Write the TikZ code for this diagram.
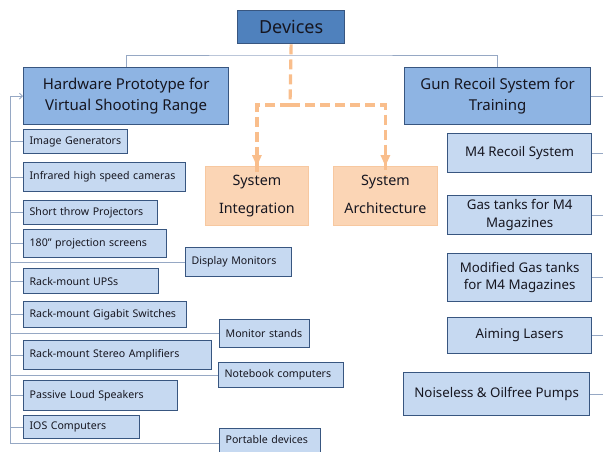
\documentclass[tikz,border=0pt]{standalone}
\usepackage{fontspec}
\setmainfont{Noto Sans}
\usetikzlibrary{arrows.meta}
\definecolor{topfill}{RGB}{79,129,189}
\definecolor{midfill}{RGB}{142,180,227}
\definecolor{itemfill}{RGB}{198,217,241}
\definecolor{boxline}{RGB}{56,86,128}
\definecolor{peach}{RGB}{251,213,181}
\definecolor{peachline}{RGB}{247,200,160}
\definecolor{dashcol}{RGB}{249,190,140}
\definecolor{linkcol}{RGB}{150,168,196}
\definecolor{ink}{RGB}{22,22,32}
\begin{document}
\begin{tikzpicture}[x=1pt,y=-1pt,
  box/.style={draw=boxline,line width=1.3pt,inner sep=0pt,anchor=north west,text=ink},
  topbox/.style={box,fill=topfill,font=\fontsize{18}{20}\selectfont},
  midbox/.style={box,fill=midfill,align=center,font=\fontsize{15}{21}\selectfont},
  leftitem/.style={box,fill=itemfill,font=\fontsize{10.6}{12}\selectfont,text width=#1,align=left,inner xsep=6pt},
  rightitem/.style={box,fill=itemfill,align=center,font=\fontsize{13.3}{17.5}\selectfont},
  peachbox/.style={draw=peachline,line width=0.8pt,fill=peach,inner sep=0pt,anchor=north west,
    align=center,text=ink,font=\fontsize{14.3}{28}\selectfont},
  link/.style={draw=linkcol,line width=0.9pt},
  dashlink/.style={draw=dashcol,line width=3.2pt,dash pattern=on 10pt off 5pt},
]
\useasboundingbox (0,0) rectangle (603,452);

% top level
\node[topbox,minimum width=107pt,minimum height=33pt] (devices) at (237,10) {Devices};
\node[midbox,minimum width=205pt,minimum height=57pt] (hw) at (23,67)
  {Hardware Prototype for\\Virtual Shooting Range};
\node[midbox,minimum width=186pt,minimum height=57pt] (gun) at (404,67)
  {Gun Recoil System for\\Training};
\node[peachbox,minimum width=103pt,minimum height=59pt] (si) at (205,166) {System\\Integration};
\node[peachbox,minimum width=104pt,minimum height=59pt] (sa) at (333,166) {System\\Architecture\vphantom{g}};

% hardware items
\node[leftitem=92pt,minimum width=104pt,minimum height=24pt] (ig) at (23,129) {Image Generators};
\node[leftitem=150pt,minimum width=162pt,minimum height=29pt] (ir) at (23,162) {Infrared high speed cameras};
\node[leftitem=122pt,minimum width=134pt,minimum height=24pt] (st) at (23,200) {Short throw Projectors};
\node[leftitem=131pt,minimum width=143pt,minimum height=28pt] (ps) at (23,229) {180'' projection screens};
\node[leftitem=94pt,minimum width=106pt,minimum height=29pt] (dm) at (185,247) {Display Monitors};
\node[leftitem=123pt,minimum width=135pt,minimum height=25pt] (ups) at (23,268) {Rack-mount UPSs};
\node[leftitem=151pt,minimum width=163pt,minimum height=26pt] (gs) at (23,301) {Rack-mount Gigabit Switches};
\node[leftitem=78pt,minimum width=90pt,minimum height=28pt] (ms) at (219,319) {Monitor stands};
\node[leftitem=176pt,minimum width=188pt,minimum height=29pt] (sam) at (23,340) {Rack-mount Stereo Amplifiers};
\node[leftitem=113pt,minimum width=125pt,minimum height=25pt] (nb) at (218,362) {Notebook computers};
\node[leftitem=142pt,minimum width=154pt,minimum height=30pt] (pls) at (23,380) {Passive Loud Speakers};
\node[leftitem=104pt,minimum width=116pt,minimum height=23pt] (ios) at (23,415) {IOS Computers};
\node[leftitem=89pt,minimum width=101pt,minimum height=30pt,text depth=8pt] (pd) at (219,428) {Portable devices};

% recoil items
\node[rightitem,minimum width=144pt,minimum height=39pt] (m4) at (447,133) {M4 Recoil System};
\node[rightitem,minimum width=144pt,minimum height=39pt] (gt) at (447,195) {Gas tanks for M4\\Magazines};
\node[rightitem,minimum width=144pt,minimum height=48pt] (mg) at (447,253) {Modified Gas tanks\\for M4 Magazines};
\node[rightitem,minimum width=144pt,minimum height=36pt] (al) at (447,317) {Aiming Lasers};
\node[rightitem,minimum width=186pt,minimum height=43pt] (np) at (403,372) {Noiseless \& Oilfree Pumps};

% connector anchors
\coordinate (bar) at (290,55);
\coordinate (split) at (290,105);
\coordinate (rail) at (10,443);
\coordinate (edge) at (603,0);

% tree from the top box
\draw[link] (hw.north) |- (bar) -| (gun.north);
\draw[dashlink] (devices.south) -- (split);
\draw[dashlink] (split) -| ([yshift=-9pt]si.north);
\draw[dashlink] (split) -| ([yshift=-9pt]sa.north);
\fill[dashcol] (si.north) -- ++(-5,-11) -- ++(10,0) -- cycle;
\fill[dashcol] (sa.north) -- ++(-5,-11) -- ++(10,0) -- cycle;

% left rail with its branches
\draw[link,-{Straight Barb[length=3pt,width=6pt]}] (rail) |- (hw.west);
\foreach \n in {ig,ir,st,ps,dm,ups,gs,ms,sam,nb,pls,ios}
  \draw[link] (\n.west -| rail) -- (\n.west);
\draw[link] (rail) -- (rail -| pd.west);

% right branches running off to the edge
\foreach \n in {gun,m4,gt,mg,al,np}
  \draw[link] (\n.east) -- (\n.east -| edge);
\end{tikzpicture}
\end{document}
